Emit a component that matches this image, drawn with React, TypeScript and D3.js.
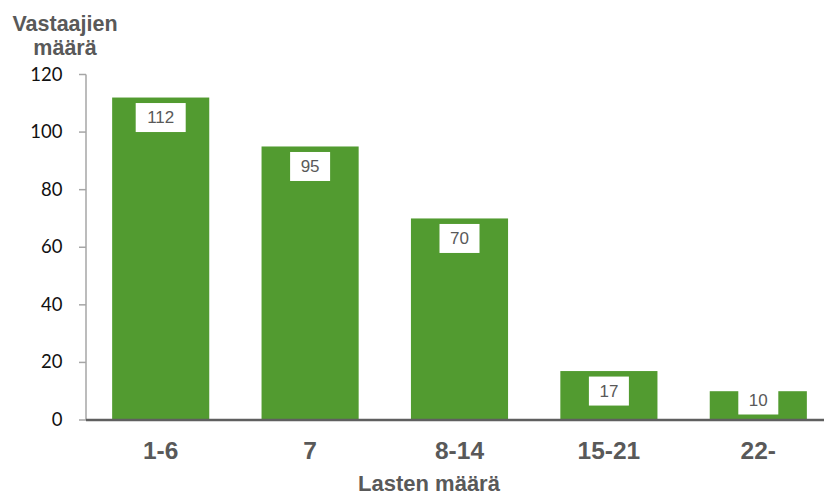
import React from "react";
import * as d3 from "d3";

const categories: string[] = ["1-6", "7", "8-14", "15-21", "22-"];
const counts: number[] = [112, 95, 70, 17, 10];
const yTicks: number[] = [0, 20, 40, 60, 80, 100, 120];
const yTitleLines: string[] = ["Vastaajien", "määrä"];
const xTitle = "Lasten määrä";

const W = 824;
const H = 495;
const plotLeft = 86;
const plotRight = 833;
const plotTop = 74.5;
const plotBottom = 420;

const BAR = "#529b30";
const AXIS_GRAY = "#a6a6a6";
const TEXT_GRAY = "#595959";
const SANS = "'Liberation Sans', Arial, sans-serif";

export default function App() {
  const x = d3
    .scaleBand<string>()
    .domain(categories)
    .range([plotLeft, plotRight])
    .paddingInner(0.35)
    .paddingOuter(0.175);
  const y = d3.scaleLinear().domain([0, 120]).range([plotBottom, plotTop]);

  return (
    <svg
      width={W}
      height={H}
      style={{ position: "absolute", left: 0, top: 0, background: "#fff" }}
    >
      {/* bars */}
      {categories.map((c, i) => (
        <rect
          key={c}
          x={x(c)}
          y={y(counts[i])}
          width={x.bandwidth()}
          height={plotBottom - y(counts[i])}
          fill={BAR}
        />
      ))}

      {/* value boxes */}
      {categories.map((c, i) => {
        const label = String(counts[i]);
        const bw = label.length >= 3 ? 50 : 40;
        const bh = 29;
        const cx = (x(c) as number) + x.bandwidth() / 2;
        const cy = Math.min(y(counts[i]) + 20, plotBottom - 20);
        return (
          <g key={"lbl" + c}>
            <rect x={cx - bw / 2} y={cy - bh / 2} width={bw} height={bh} fill="#fff" />
            <text
              x={cx}
              y={cy}
              textAnchor="middle"
              dominantBaseline="central"
              fontFamily={SANS}
              fontSize={17}
              fill={TEXT_GRAY}
            >
              {label}
            </text>
          </g>
        );
      })}

      {/* y axis */}
      <line x1={plotLeft} x2={plotLeft} y1={plotTop} y2={plotBottom} stroke={AXIS_GRAY} strokeWidth={1.5} />
      {yTicks.map((t) => (
        <g key={t}>
          <line x1={79} x2={plotLeft} y1={y(t)} y2={y(t)} stroke={AXIS_GRAY} strokeWidth={1.5} />
          <text
            x={62.5}
            y={y(t) - 1}
            textAnchor="end"
            dominantBaseline="central"
            fontFamily="Lato, 'Open Sans', sans-serif"
            fontSize={18.5}
            fill="#111"
          >
            {t}
          </text>
        </g>
      ))}

      {/* baseline */}
      <line x1={plotLeft} x2={W} y1={plotBottom} y2={plotBottom} stroke="#5f5f5f" strokeWidth={2.5} />

      {/* category labels */}
      {categories.map((c) => (
        <text
          key={"x" + c}
          x={(x(c) as number) + x.bandwidth() / 2}
          y={458.5}
          textAnchor="middle"
          fontFamily={SANS}
          fontWeight="bold"
          fontSize={24.5}
          fill={TEXT_GRAY}
        >
          {c}
        </text>
      ))}

      {/* axis titles */}
      <text
        x={429}
        y={490.5}
        textAnchor="middle"
        fontFamily={SANS}
        fontWeight="bold"
        fontSize={22}
        fill={TEXT_GRAY}
      >
        {xTitle}
      </text>
      {yTitleLines.map((l, i) => (
        <text
          key={l}
          x={65}
          y={31 + i * 23.5}
          textAnchor="middle"
          fontFamily={SANS}
          fontWeight="bold"
          fontSize={21.5}
          fill={TEXT_GRAY}
        >
          {l}
        </text>
      ))}
    </svg>
  );
}
